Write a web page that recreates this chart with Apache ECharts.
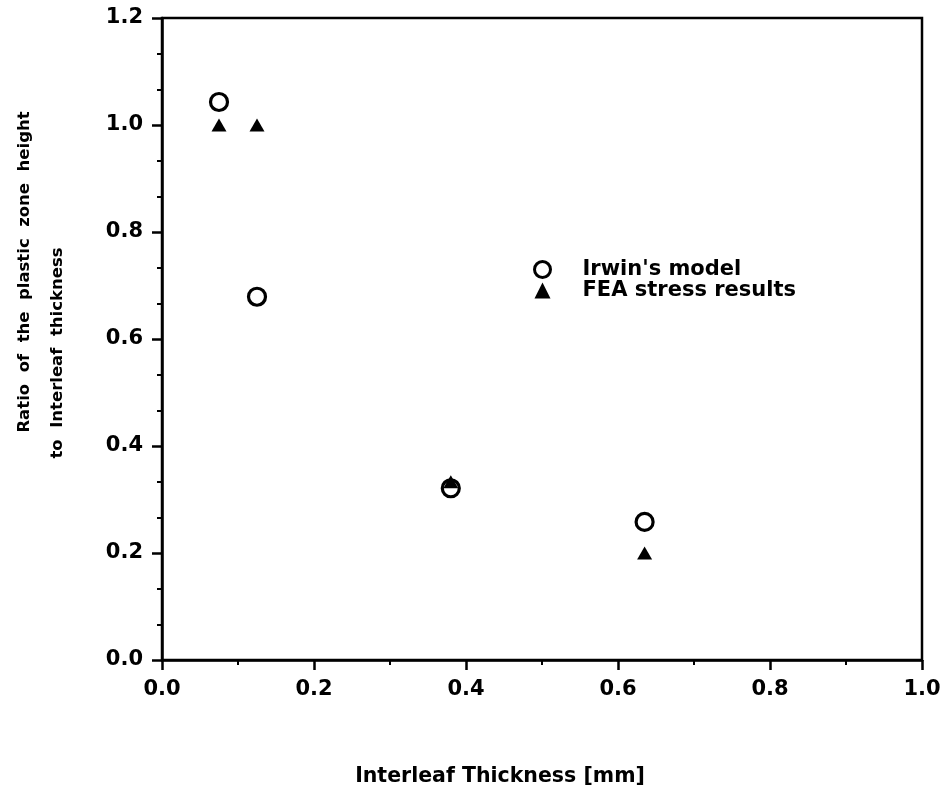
<!DOCTYPE html>
<html>
<head>
<meta charset="utf-8">
<script src="https://cdn.jsdelivr.net/npm/echarts@6/dist/echarts.min.js"></script>
<style>
  html, body { margin: 0; padding: 0; background: #fff; }
  #chart { width: 948px; height: 794px; }
</style>
</head>
<body>
<div id="chart"></div>
<script>
// Interleaf thickness (mm) for each specimen
var thickness = [0.075, 0.125, 0.38, 0.635];
// Plastic zone height / interleaf thickness
var irwinModel = [1.043, 0.679, 0.321, 0.258];
var feaStress = [1.0, 1.0, 0.333, 0.2];

var seriesNames = ["Irwin's model", 'FEA stress results'];
var xTitle = 'Interleaf Thickness [mm]';
var yTitleLines = ['Ratio  of  the  plastic  zone  height', 'to  Interleaf  thickness'];

var FONT = 'DejaVu Sans';

function pairs(xs, ys) {
  return xs.map(function (x, i) { return [x, ys[i]]; });
}

var chart = echarts.init(document.getElementById('chart'), null, { renderer: 'canvas' });

var axisCommon = {
  axisLine: { show: true, onZero: false, lineStyle: { color: '#000', width: 2.5 } },
  axisTick: { show: true, inside: false, length: 10, lineStyle: { color: '#000', width: 2.5 } },
  minorTick: { show: true, length: 5, lineStyle: { color: '#000', width: 2 } },
  splitLine: { show: false },
  axisLabel: {
    color: '#000', fontFamily: FONT, fontWeight: 'bold', fontSize: 21, margin: 19,
    formatter: function (v) { return v.toFixed(1); }
  }
};

chart.setOption({
  backgroundColor: '#fff',
  animation: false,
  grid: {
    left: 162, right: 26, top: 18, bottom: 134,
    show: true, borderColor: '#000', borderWidth: 2.5, backgroundColor: 'transparent'
  },
  legend: {
    orient: 'vertical',
    left: 528, top: 254,
    itemGap: 0,
    itemWidth: 16, itemHeight: 16,
    data: [
      { name: seriesNames[0], icon: 'circle', itemStyle: { color: '#fff', borderColor: '#000', borderWidth: 3 } },
      { name: seriesNames[1], icon: 'triangle', itemStyle: { color: '#000', borderWidth: 0 } }
    ],
    textStyle: {
      color: '#000', fontFamily: FONT, fontWeight: 'bold', fontSize: 21,
      lineHeight: 20, padding: [0, 0, 0, 27]
    }
  },
  xAxis: Object.assign({}, axisCommon, {
    type: 'value', min: 0, max: 1, interval: 0.2,
    minorTick: Object.assign({}, axisCommon.minorTick, { splitNumber: 2 })
  }),
  yAxis: Object.assign({}, axisCommon, {
    type: 'value', min: 0, max: 1.2, interval: 0.2,
    minorTick: Object.assign({}, axisCommon.minorTick, { splitNumber: 3 })
  }),
  series: [
    {
      name: seriesNames[0],
      type: 'scatter',
      symbol: 'circle',
      symbolSize: 17,
      itemStyle: { color: 'rgba(255,255,255,0)', borderColor: '#000', borderWidth: 3.2, opacity: 1 },
      data: pairs(thickness, irwinModel),
      z: 2
    },
    {
      name: seriesNames[1],
      type: 'scatter',
      symbol: 'triangle',
      symbolSize: [15, 13],
      itemStyle: { color: '#000', opacity: 1 },
      data: pairs(thickness, feaStress),
      z: 3
    }
  ],
  graphic: [
    {
      type: 'text', x: 500, y: 777,
      style: { text: xTitle, fill: '#000', font: 'bold 20.5px "' + FONT + '"', align: 'center', verticalAlign: 'middle' }
    },
    {
      type: 'text', x: 25, y: 272, rotation: Math.PI / 2,
      style: { text: yTitleLines[0], fill: '#000', font: 'bold 16.5px "' + FONT + '"', align: 'center', verticalAlign: 'middle' }
    },
    {
      type: 'text', x: 58, y: 353, rotation: Math.PI / 2,
      style: { text: yTitleLines[1], fill: '#000', font: 'bold 16.5px "' + FONT + '"', align: 'center', verticalAlign: 'middle' }
    }
  ]
});
</script>
</body>
</html>
